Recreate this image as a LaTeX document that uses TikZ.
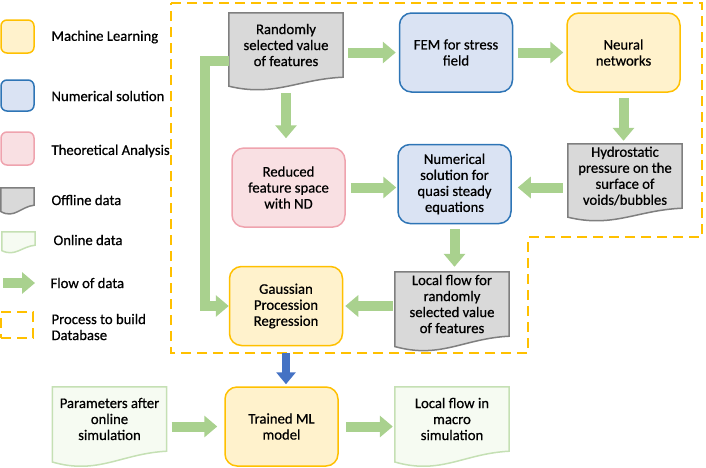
\documentclass[tikz,border=0pt]{standalone}
\usepackage{fontspec}
\setmainfont{Carlito}[FakeBold=0.6]
\usetikzlibrary{arrows.meta, calc, backgrounds}

\definecolor{mlfill}{HTML}{FFF2CC}
\definecolor{mlline}{HTML}{FFC000}
\definecolor{numfill}{HTML}{DAE3F3}
\definecolor{numline}{HTML}{2E75B6}
\definecolor{theofill}{HTML}{F9E0E3}
\definecolor{theoline}{HTML}{EFA3AE}
\definecolor{offfill}{HTML}{D9D9D9}
\definecolor{offline}{HTML}{7F7F7F}
\definecolor{onfill}{HTML}{F6FBF2}
\definecolor{online}{HTML}{C5E0B4}
\definecolor{flowgreen}{HTML}{A9D18E}
\definecolor{dbblue}{HTML}{4472C4}
\definecolor{dbline}{HTML}{FFC000}

\begin{document}
\begin{tikzpicture}[
    x=1pt, y=-1pt,
    font=\fontsize{14.7}{16}\selectfont,
    box/.style={rectangle, rounded corners=12pt, minimum width=113pt, minimum height=79pt, inner sep=0pt, align=center, line width=1.5pt},
    ml/.style={box, draw=mlline, fill=mlfill},
    num/.style={box, draw=numline, fill=numfill},
    theo/.style={box, draw=theoline, fill=theofill},
    doc/.style={rectangle, minimum width=114pt, minimum height=64pt, inner sep=0pt, align=center},
    offl/.style={draw=offline, fill=offfill, line width=1.5pt},
    onl/.style={draw=online, fill=onfill, line width=1.5pt},
    flow/.style={-{Triangle[length=13pt,width=21pt]}, line width=10pt, flowgreen, shorten <=5pt, shorten >=3pt},
    dbflow/.style={-{Triangle[length=12pt,width=19pt]}, line width=8pt, dbblue, shorten <=7pt, shorten >=2pt},
    region/.style={draw=dbline, line width=2pt, dash pattern=on 10pt off 6pt},
    key/.style={anchor=west, align=left}
]
\useasboundingbox (0,0) rectangle (706,467);

%% -- database region ---------------------------------------------------------
\draw[region] (171,3) -- (702,3) -- (702,237) -- (528,237) -- (528,353) -- (171,353) -- cycle;

%% -- legend ------------------------------------------------------------------
\node[ml, minimum width=33pt, minimum height=33pt, rounded corners=6pt]   (lgml)   at (17.5,36.5)  {};
\node[num, minimum width=33pt, minimum height=31pt, rounded corners=6pt]  (lgnum)  at (17.5,95.5)  {};
\node[theo, minimum width=33pt, minimum height=33pt, rounded corners=6pt] (lgtheo) at (17.5,148.5) {};
\node[doc, minimum width=33pt, minimum height=17pt] (lgoff) at (17.5,196.5) {};
\node[doc, minimum width=33pt, minimum height=13pt] (lgon)  at (18.5,238.5) {};
\coordinate (lgtail) at (3,283);
\coordinate (lghead) at (35,283);
\draw[flow, shorten <=0pt, shorten >=0pt] (lgtail) -- (lghead);
\node[region, minimum width=32pt, minimum height=26pt, inner sep=0pt] (lgdb) at (17,325) {};

\node[key] (tml)   at (48,37)  {Machine Learning};
\node[key] (tnum)  at (48,96)  {Numerical solution};
\node[key] (ttheo) at (48,151) {Theoretical Analysis};
\node[key] (toff)  at (48,200) {Offline data};
\node[key] (ton)   at (50,240) {Online data};
\node[key] (tflow) at (47,283) {Flow of data};
\node[key] (tdb)   at (48,327) {Process to build\\Database};

%% -- offline part ------------------------------------------------------------
\node[doc]  (rand)    at (286,45)      {Randomly\\selected value\\of features};
\node[num]  (fem)     at (456,52.5)    {FEM for stress\\field};
\node[ml]   (nn)      at (623.5,52.5)  {Neural\\networks};
\node[theo] (reduced) at (288.5,187.5) {Reduced\\feature space\\with ND};
\node[num]  (numer)   at (454.5,184)   {Numerical\\solution for\\quasi steady\\equations};
\node[doc]  (hydro)   at (625,176)     {Hydrostatic\\pressure on the\\surface of\\voids/bubbles};
\node[ml]   (gauss)   at (286,306)     {Gaussian\\Procession\\Regression};
\node[doc]  (lflow)   at (452,304)     {Local flow for\\randomly\\selected value\\of features};

%% -- online part -------------------------------------------------------------
\node[doc]  (params)  at (109.5,419)   {Parameters after\\online\\simulation};
\node[ml]   (trained) at (281.5,426.5) {Trained ML\\model};
\node[doc]  (macro)   at (452,419)     {Local flow in\\macro\\simulation};

%% -- document outlines (wavy bottom) -----------------------------------------
\begin{scope}[on background layer]
\foreach \n/\s/\a in {rand/offl/1, hydro/offl/1, lflow/offl/1.15, params/onl/1.2, macro/onl/1.2, lgoff/offl/0.7, lgon/onl/0.6}
  \draw[\s] (\n.north west) -- (\n.north east) -- (\n.south east)
    .. controls ($(\n.south east)!0.4!(\n.south west)+(0,2*\a)$) and ($(\n.south east)!0.6!(\n.south west)+(0,20*\a)$)
    .. ($(\n.south west)+(0,9*\a)$) -- cycle;
\end{scope}

%% -- flow of data ------------------------------------------------------------
\draw[flow] (rand.east |- fem.west) -- (fem.west);
\draw[flow] (fem) -- (nn);
\draw[flow] (nn) -- (nn |- hydro.north);
\draw[flow, shorten >=6pt] (hydro.west |- reduced.east) -- (numer.east |- reduced.east);
\draw[flow, shorten <=16pt, shorten >=9pt] (rand.south) -- (rand.south |- reduced.north);
\draw[flow, shorten >=1pt] (reduced) -- (reduced -| numer.west);
\draw[flow, shorten >=5pt] (numer) -- (numer |- lflow.north);
\draw[flow, shorten <=2pt, shorten >=2pt] (lflow.west |- gauss.east) -- (gauss.east);
\draw[flow, shorten <=0pt, shorten >=0pt] ([yshift=-16pt]rand.west) -- ++(-24,0) |- (gauss.west);

\draw[dbflow] (gauss) -- (gauss |- trained.north);
\draw[flow, shorten >=7pt] (params.east |- trained.west) -- (trained.west);
\draw[flow, shorten <=7pt, shorten >=2pt] (trained.east) -- (trained.east -| macro.west);

\end{tikzpicture}
\end{document}
